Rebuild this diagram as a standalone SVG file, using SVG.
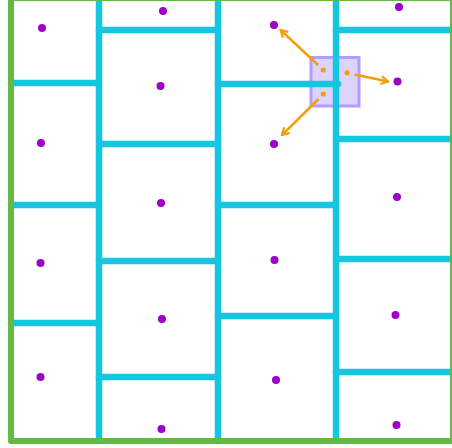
<svg xmlns="http://www.w3.org/2000/svg" width="452" height="448" viewBox="0 0 452 448">
<style>
.wall{stroke:#16c5df;stroke-width:6.5;stroke-linecap:round;fill:none}
.border{stroke:#62b946;stroke-width:6;fill:none;stroke-linejoin:round}
.site{fill:#9d00c8}
.pt{fill:#f5a00b}
.arr{stroke:#f5a00b;stroke-width:2.5;fill:none;marker-end:url(#ah)}
.box{fill:#dcd4ff;stroke:#b39bff;stroke-width:3}
</style>
<defs>
<marker id="ah" markerUnits="userSpaceOnUse" viewBox="0 0 10 10" refX="8" refY="5" markerWidth="10" markerHeight="10" orient="auto">
<path d="M1,1 L8,5 L1,9" fill="none" stroke="#f5a00b" stroke-width="2.2" stroke-linejoin="miter"/>
</marker>
</defs>
<rect width="452" height="448" fill="#ffffff"/>
<g id="query-box">
<rect class="box" x="311" y="57.5" width="48" height="48.5"/>
</g>
<g id="walls">
<line class="wall" x1="99" y1="0" x2="99" y2="441"/>
<line class="wall" x1="218" y1="0" x2="218" y2="441"/>
<line class="wall" x1="336" y1="0" x2="336" y2="441"/>
<line class="wall" x1="11" y1="83" x2="99" y2="83"/>
<line class="wall" x1="11" y1="205" x2="99" y2="205"/>
<line class="wall" x1="11" y1="323" x2="99" y2="323"/>
<line class="wall" x1="99" y1="30" x2="218" y2="30"/>
<line class="wall" x1="99" y1="144" x2="218" y2="144"/>
<line class="wall" x1="99" y1="261" x2="218" y2="261"/>
<line class="wall" x1="99" y1="377" x2="218" y2="377"/>
<line class="wall" x1="218" y1="84" x2="338" y2="84"/>
<line class="wall" x1="218" y1="205" x2="336" y2="205"/>
<line class="wall" x1="218" y1="316" x2="336" y2="316"/>
<line class="wall" x1="336" y1="30" x2="455" y2="30"/>
<line class="wall" x1="336" y1="139" x2="455" y2="139"/>
<line class="wall" x1="336" y1="259" x2="455" y2="259"/>
<line class="wall" x1="336" y1="372" x2="455" y2="372"/>
</g>
<g id="border">
<rect class="border" x="11" y="-2" width="442" height="443"/>
</g>
<g id="sites">
<circle class="site" cx="42" cy="28" r="4"/>
<circle class="site" cx="41" cy="143" r="4"/>
<circle class="site" cx="40.5" cy="263" r="4"/>
<circle class="site" cx="40.5" cy="377" r="4"/>
<circle class="site" cx="163" cy="11" r="4"/>
<circle class="site" cx="160.5" cy="86" r="4"/>
<circle class="site" cx="161" cy="203" r="4"/>
<circle class="site" cx="162" cy="319" r="4"/>
<circle class="site" cx="161.5" cy="429" r="4"/>
<circle class="site" cx="274" cy="25" r="4"/>
<circle class="site" cx="274" cy="144" r="4"/>
<circle class="site" cx="274.5" cy="260" r="4"/>
<circle class="site" cx="276" cy="380" r="4"/>
<circle class="site" cx="399" cy="7" r="4"/>
<circle class="site" cx="397.5" cy="81.5" r="4"/>
<circle class="site" cx="397" cy="197" r="4"/>
<circle class="site" cx="395.5" cy="315" r="4"/>
<circle class="site" cx="396.5" cy="425" r="4"/>
</g>
<g id="query-points">
<circle class="pt" cx="323.3" cy="70" r="2.6"/>
<circle class="pt" cx="347" cy="72.7" r="2.6"/>
<circle class="pt" cx="323.3" cy="94" r="2.6"/>
</g>
<g id="connectors">
<line class="arr" x1="318" y1="65" x2="280.5" y2="30"/>
<line class="arr" x1="354.5" y1="74.5" x2="388" y2="81.5"/>
<line class="arr" x1="318.5" y1="99" x2="282" y2="135"/>
</g>
</svg>
